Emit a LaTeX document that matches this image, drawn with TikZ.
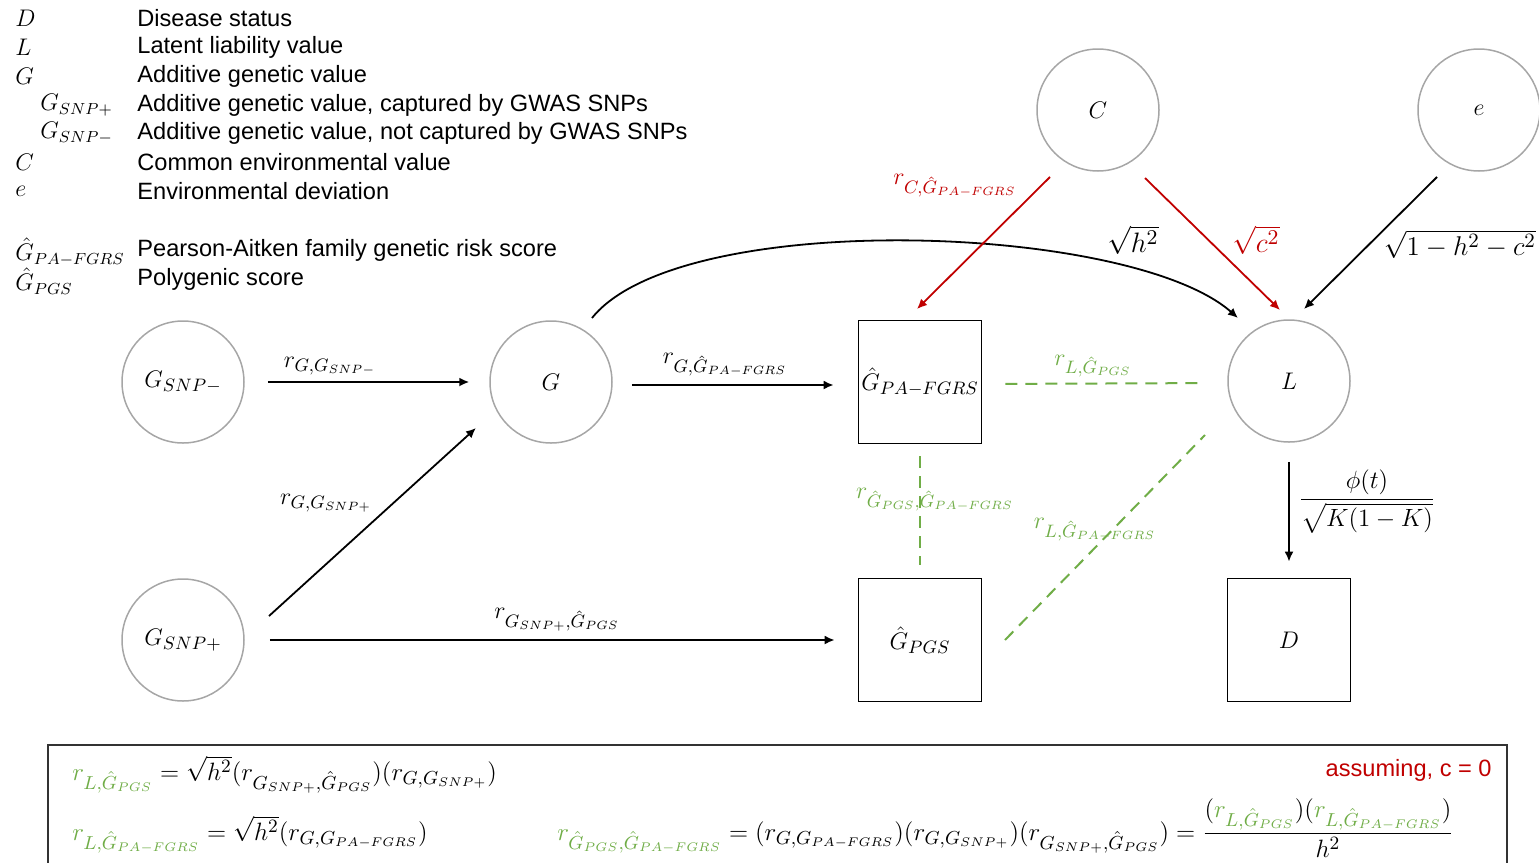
\documentclass[tikz,border=0pt]{standalone}
\usepackage{fontspec}
\setmainfont{Liberation Sans}
\usepackage{amsmath}
\usetikzlibrary{arrows.meta}
\definecolor{grn}{HTML}{70AD47}
\definecolor{rd}{HTML}{C00000}
\definecolor{circgray}{HTML}{A6A6A6}
\definecolor{boxgray}{HTML}{333333}
\newcommand{\Gh}{\hat{G}}
\begin{document}
\begin{tikzpicture}[x=0.5pt,y=-0.5pt,
  font=\fontsize{11.8}{14}\selectfont,
  mth/.style={font=\fontsize{13}{15}\selectfont, inner sep=1pt},
  circnode/.style={circle, draw=circgray, line width=0.75pt, minimum size=61pt, inner sep=0pt, font=\fontsize{13}{15}\selectfont},
  sqnode/.style={rectangle, draw=black, line width=0.9pt, minimum size=61.5pt, inner sep=0pt, font=\fontsize{13}{15}\selectfont},
  arr/.style={-{Latex[length=5pt,width=4.5pt]}, line width=0.9pt},
  dsh/.style={grn, line width=1pt, dash pattern=on 6pt off 4pt},
  leg/.style={anchor=west, inner sep=0pt},
  legsym/.style={anchor=west, inner sep=0pt, font=\fontsize{12}{14}\selectfont},
  eqn/.style={anchor=base west, inner sep=0pt, font=\fontsize{13}{15}\selectfont}
]
\useasboundingbox (0,0) rectangle (1539,863);
\clip (0,0) rectangle (1539,863);

% legend
\node[legsym] (sD) at (15,18) {$D$};
\node[legsym] (sL) at (15,47) {$L$};
\node[legsym] (sG) at (15,76) {$G$};
\node[legsym] (sGp) at (40,105) {$G_{SNP+}$};
\node[legsym] (sGm) at (40,133) {$G_{SNP{-}}$};
\node[legsym] (sC) at (15,162) {$C$};
\node[legsym] (se) at (15,191) {$e$};
\node[legsym] (sPA) at (15,252) {$\Gh_{PA-FGRS}$};
\node[legsym] (sPG) at (15,281) {$\Gh_{PGS}$};
\node[leg] (tD) at (137,18) {Disease status};
\node[leg] (tL) at (137,47) {Latent liability value};
\node[leg] (tG) at (137,76) {Additive genetic value};
\node[leg] (tGp) at (137,105) {Additive genetic value, captured by GWAS SNPs};
\node[leg] (tGm) at (137,133) {Additive genetic value, not captured by GWAS SNPs};
\node[leg] (tC) at (137,162) {Common environmental value};
\node[leg] (te) at (137,191) {Environmental deviation};
\node[leg] (tPA) at (137,250) {Pearson-Aitken family genetic risk score};
\node[leg] (tPG) at (137,279) {Polygenic score};

% nodes
\node[circnode] (gsm) at (183,382) {$G_{SNP{-}}$};
\node[circnode] (g) at (551,382) {$G$};
\node[circnode] (gsp) at (183,640) {$G_{SNP+}$};
\node[circnode] (c) at (1098,110) {$C$};
\node[circnode] (e) at (1479,110) {$e$};
\node[circnode] (l) at (1289,381) {$L$};
\node[sqnode] (pa) at (920,382) {$\Gh_{PA-FGRS}$};
\node[sqnode] (pg) at (920,640) {$\Gh_{PGS}$};
\node[sqnode] (d) at (1289,640) {$D$};

% arrows
\draw[arr, shorten <=11.5pt, shorten >=10pt] (gsm) -- (g);
\draw[arr, shorten <=9.5pt, shorten >=12pt] ([yshift=-1.5pt]g.east) -- ([yshift=-1.5pt]pa.west);
\draw[arr] ([shift={(86,-24)}]gsp.center) -- ([shift={(-75,46)}]g.center);
\draw[arr, shorten <=12.5pt, shorten >=11.5pt] (gsp) -- (pg);
\draw[arr] ([shift={(41,-64)}]g.center) .. controls (680,208) and (1130,223) .. ([shift={(-51,-63)}]l.center);
\draw[arr, rd] ([shift={(-48,67)}]c.center) -- ([shift={(-3,-73)}]pa.center);
\draw[arr, rd] ([shift={(47,68)}]c.center) -- ([shift={(-9,-71)}]l.center);
\draw[arr] ([shift={(-42,67)}]e.center) -- ([shift={(15,-72)}]l.center);
\draw[arr, shorten <=9.5pt, shorten >=8pt] (l) -- (d);
\draw[dsh, shorten <=11.5pt, shorten >=11.5pt] ([yshift=-1pt]pa.east) -- ([yshift=-1pt]l.west);
\draw[dsh, shorten <=6pt, shorten >=6.5pt] (pa) -- (pg);
\draw[dsh] ([shift={(85,0)}]pg.center) -- ([shift={(-84,54)}]l.center);

% labels
\node[mth] (l1) at (330,366) {$r_{G,G_{SNP{-}}}$};
\node[mth] (l2) at (725,365) {$r_{G,\Gh_{PA-FGRS}}$};
\node[mth] (l3) at (326,503) {$r_{G,G_{SNP+}}$};
\node[mth] (l4) at (557,620) {$r_{G_{SNP+},\Gh_{PGS}}$};
\node[mth] (l5) at (1133,240) {\scalebox{1.17}{$\sqrt{h^2}$}};
\node[mth, text=rd] (l6) at (955,186) {$r_{C,\Gh_{PA-FGRS}}$};
\node[mth, text=rd] (l7) at (1256,240) {\scalebox{1.17}{$\sqrt{c^2}$}};
\node[mth] (l8) at (1460,244) {\scalebox{1.13}{$\sqrt{1-h^2-c^2}$}};
\node[mth, text=grn] (l9) at (1093,366) {$r_{L,\Gh_{PGS}}$};
\node[mth, text=grn] (l10) at (935,500) {$r_{\Gh_{PGS},\Gh_{PA-FGRS}}$};
\node[mth, text=grn] (l11) at (1095,530) {$r_{L,\Gh_{PA-FGRS}}$};
\node[mth] (l12) at (1367,502) {\scalebox{1.04}{$\dfrac{\phi(t)}{\sqrt{K(1-K)}}$}};

% bottom box
\draw[boxgray, line width=1.1pt] (48,745) rectangle (1507,905);
\node[anchor=east, text=rd, inner sep=0pt] (assume) at (1492,770) {assuming, c = 0};
\node[eqn] (eq1) at (72,780) {\scalebox{1.045}{$\color{grn}r_{L,\Gh_{PGS}}\color{black} = \sqrt{h^2}(r_{G_{SNP+},\Gh_{PGS}})(r_{G,G_{SNP+}})$}};
\node[eqn] (eq2) at (72,840) {\scalebox{1.045}{$\color{grn}r_{L,\Gh_{PA-FGRS}}\color{black} = \sqrt{h^2}(r_{G,G_{PA-FGRS}})$}};
\node[eqn] (eq3) at (557,840) {\scalebox{1.045}{$\color{grn}r_{\Gh_{PGS},\Gh_{PA-FGRS}}\color{black} = (r_{G,G_{PA-FGRS}})(r_{G,G_{SNP+}})(r_{G_{SNP+},\Gh_{PGS}}) = \dfrac{(\color{grn}r_{L,\Gh_{PGS}}\color{black})(\color{grn}r_{L,\Gh_{PA-FGRS}}\color{black})}{h^2}$}};
\end{tikzpicture}
\end{document}
